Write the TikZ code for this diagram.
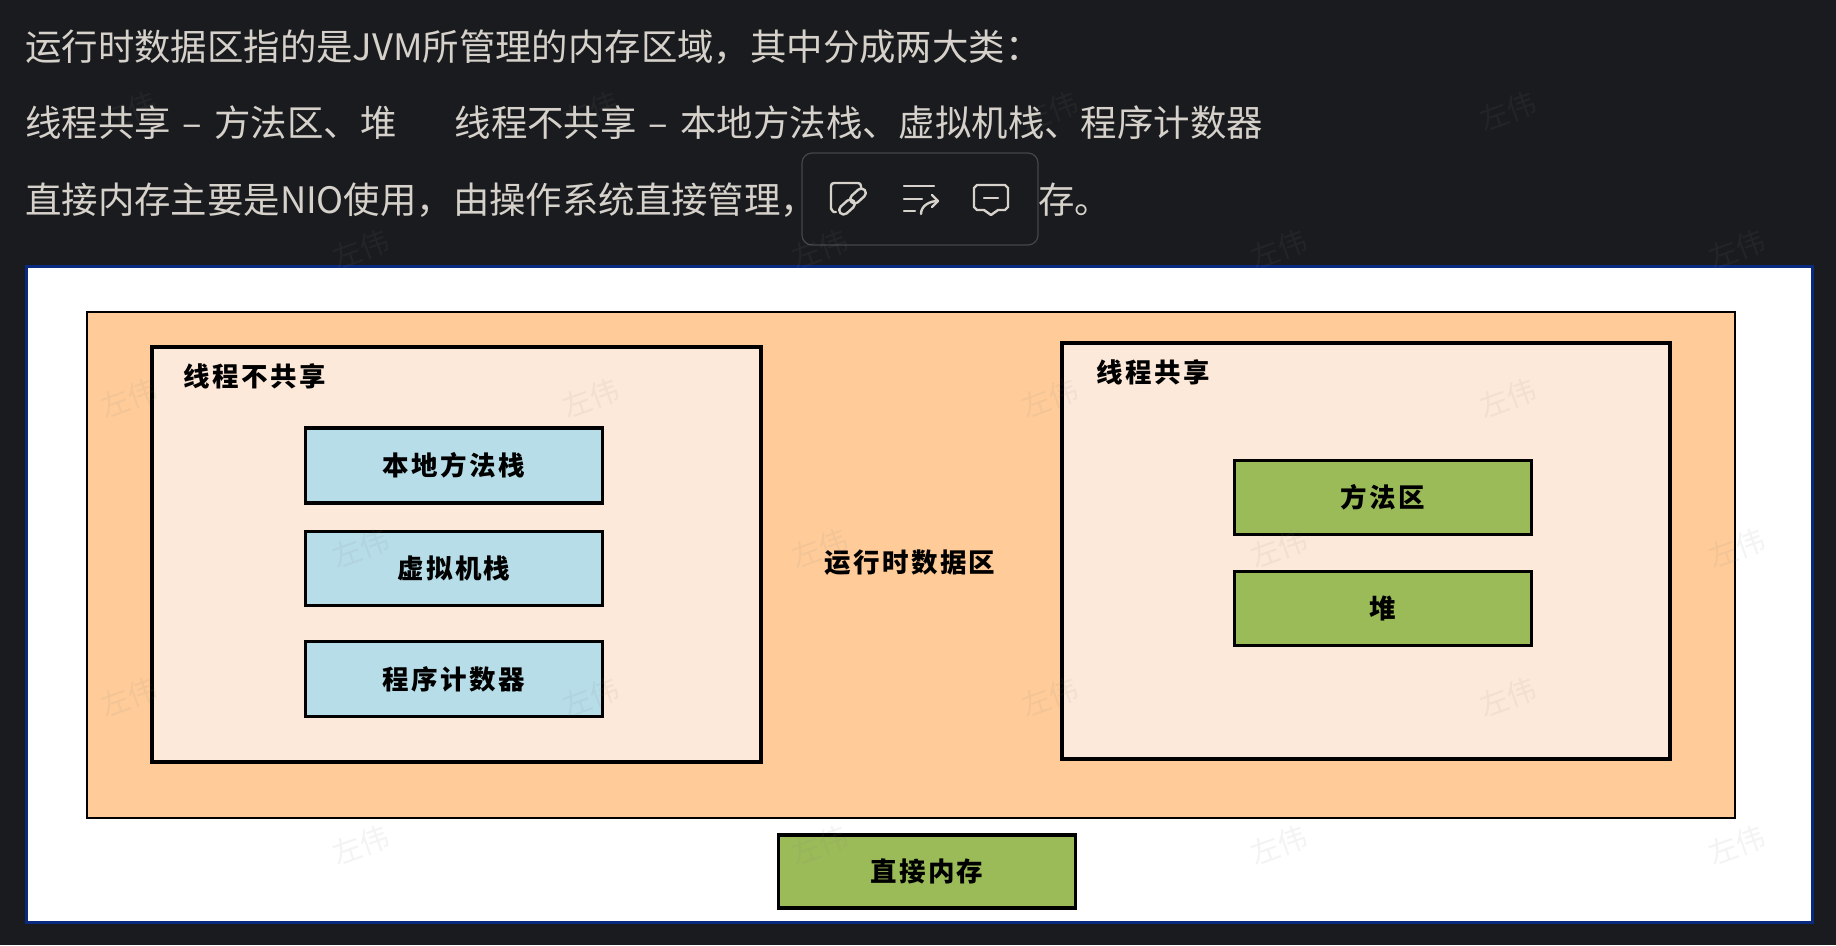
\documentclass[tikz,border=0pt]{standalone}
\usepackage{fontspec}
\setmainfont{Noto Sans CJK SC}
\newfontfamily\cjkl[LetterSpace=9]{Noto Sans CJK SC}
\definecolor{pagebg}{HTML}{1A1B1E}
\definecolor{txtc}{HTML}{D6D2CB}
\definecolor{panelb}{HTML}{0A2A80}
\definecolor{orangef}{HTML}{FFCC99}
\definecolor{peachf}{HTML}{FDE9D9}
\definecolor{bluef}{HTML}{B7DDE8}
\definecolor{greenf}{HTML}{9BBB59}
\definecolor{toolb}{HTML}{44464A}
\tikzset{
  x=1pt,y=-1pt,
  headline/.style={anchor=base west,inner sep=0,text=txtc,font=\fontsize{36.4}{40}\selectfont},
  box/.style={draw=black,line width=3.8pt,anchor=north west,inner sep=0},
  frame/.style={draw=black,line width=2.2pt,fill=orangef,anchor=north west,inner sep=0},
  blab/.style={inner sep=0,text=black,font=\fontsize{26.5}{30}\selectfont\cjkl\bfseries},
  wm/.style={inner sep=0,rotate=20,font=\fontsize{29}{30}\selectfont,text opacity=0.09,text=gray},
  icon/.style={draw=txtc,line width=2.4pt,line cap=round,line join=round},
}
\begin{document}
\begin{tikzpicture}
\useasboundingbox (0,0) rectangle (1836,945);
\fill[pagebg] (0,0) rectangle (1836,945);
% headline text
\node[headline] (l1) at (25,60) {运行时数据区指的是JVM所管理的内存区域，其中分成两大类：};
\node[headline] (l2) at (25,136) {线程共享\hspace{4pt} – \hspace{4pt}方法区、堆\hspace{58pt}线程不共享\hspace{4pt} – \hspace{4pt}本地方法栈、虚拟机栈、程序计数器};
\node[headline] (l3a) at (25,213) {直接内存主要是NIO使用，由操作系统直接管理，};
\node[headline] (l3b) at (1038,213) {存。};
% floating toolbar
\node[draw=toolb,line width=1.2pt,rounded corners=10pt,fill=pagebg,minimum width=236pt,minimum height=92pt,inner sep=0] (toolbar) at (920,199) {};
% link icon
\draw[icon] (836,212) -- (834,212) to[out=180,in=90] (831,209) -- (831,186) to[out=90,in=180] (834,183) -- (858,183) to[out=0,in=90] (861,186) -- (861,188);
\draw[icon,rounded corners=4.5pt,rotate around={42:(847,207)}] (838,202.5) rectangle (856,211.5);
\draw[icon,rounded corners=4.5pt,rotate around={42:(858,196)}] (849,191.5) rectangle (867,200.5);
% wrap icon
\draw[icon] (904,186) -- (934,186);
\draw[icon] (904,199) -- (922,199);
\draw[icon] (904,211) -- (915,211);
\draw[icon] (921,214) to[out=90,in=180] (938,201);
\draw[icon] (932,195) -- (938,201) -- (932,207);
% comment icon
\draw[icon] (977,185) -- (1005,185) -- (1008,188) -- (1008,207) -- (1005,210) -- (998,210) -- (991,215) -- (984,210) -- (977,210) -- (974,207) -- (974,188) -- cycle;
\draw[icon] (984,198) -- (998,198);
% white panel
\node[draw=panelb,line width=2.5pt,fill=white,anchor=north west,minimum width=1786pt,minimum height=656pt,inner sep=0] (panel) at (25,265) {};
% data area
\node[frame,minimum width=1648pt,minimum height=506pt] (area) at (86,311) {};
\node[box,fill=peachf,minimum width=609pt,minimum height=415pt] (left) at (150,345) {};
\node[box,fill=peachf,minimum width=608pt,minimum height=416pt] (right) at (1060,341) {};
\node[blab] (lt) at (255,376) {线程不共享};
\node[blab] (rt) at (1153,372) {线程共享};
\node[blab] (mid) at (910,563) {运行时数据区};
\node[box,fill=bluef,minimum width=297pt,minimum height=75pt] (b1) at (303.5,426) {};
\node[blab] at (b1.center) {本地方法栈};
\node[box,fill=bluef,minimum width=297pt,minimum height=74pt] (b2) at (303.5,529.5) {};
\node[blab] at (b2.center) {虚拟机栈};
\node[box,fill=bluef,minimum width=297pt,minimum height=75pt] (b3) at (303.5,639.5) {};
\node[blab] at (b3.center) {程序计数器};
\node[box,fill=greenf,minimum width=297pt,minimum height=74pt] (g1) at (1232.5,458.5) {};
\node[blab] at (g1.center) {方法区};
\node[box,fill=greenf,minimum width=297pt,minimum height=74pt] (g2) at (1232.5,569.5) {};
\node[blab] at (g2.center) {堆};
\node[box,fill=greenf,minimum width=297pt,minimum height=73pt] (g3) at (776.5,833) {};
\node[blab] at (g3.center) {直接内存};
% watermarks
\foreach \yy in {111,398,697}{
  \foreach \xx in {129,591,1050,1508}{\node[wm] at (\xx,\yy) {左伟};}
}
\foreach \yy in {249,548,845}{
  \foreach \xx in {361,820,1279,1737}{\node[wm] at (\xx,\yy) {左伟};}
}
\end{tikzpicture}
\end{document}
